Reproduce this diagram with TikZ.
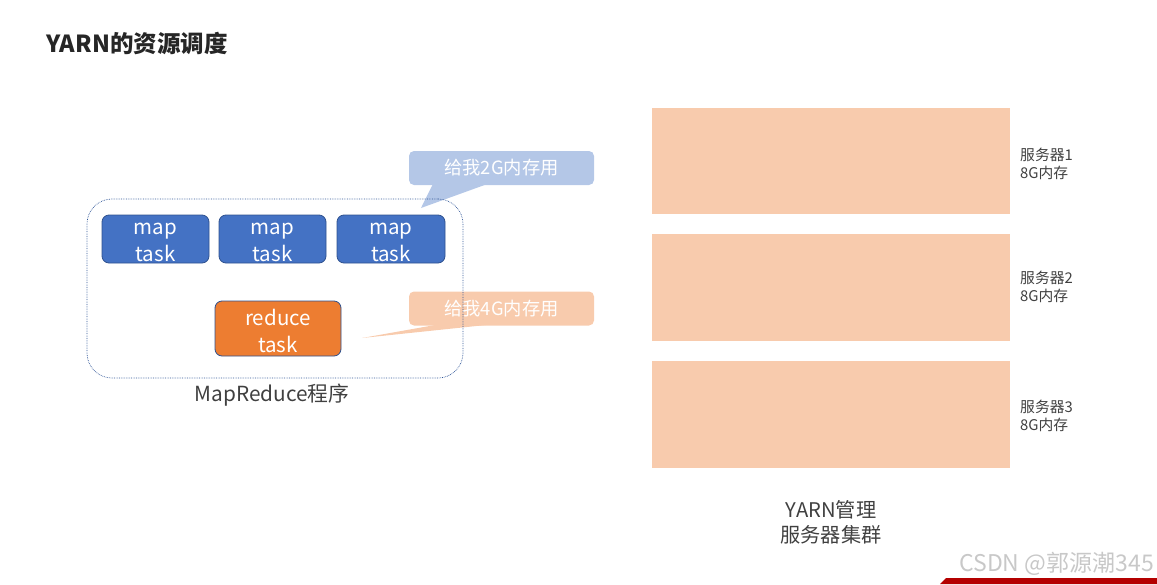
\documentclass[tikz,border=0pt]{standalone}
\usepackage{fontspec}
\setmainfont{Noto Sans CJK SC}
\usetikzlibrary{calc}
\definecolor{mapblue}{HTML}{4472C4}
\definecolor{mapedge}{HTML}{2F528F}
\definecolor{redorange}{HTML}{ED7D31}
\definecolor{lightblue}{HTML}{B4C7E7}
\definecolor{peach}{HTML}{F8CBAD}
\definecolor{framecol}{HTML}{2F5597}
\definecolor{txtgray}{HTML}{404040}
\definecolor{titlegray}{HTML}{262626}
\definecolor{wmgray}{HTML}{C8C8C8}
\definecolor{barred}{HTML}{B40000}
\tikzset{
  taskbox/.style={draw=mapedge, line width=0.8pt, rounded corners=7pt, inner sep=0pt},
  tasktext/.style={text=white, font=\fontsize{20.5}{27}\selectfont, align=center, inner sep=0pt},
  callout/.style={rounded corners=5pt, text=white, font=\fontsize{18.3}{20}\selectfont,
    minimum width=185pt, minimum height=34pt, inner sep=0pt},
  server/.style={fill=peach, minimum width=358pt, inner sep=0pt},
  slabel/.style={anchor=west, align=left, text=txtgray, font=\fontsize{14.8}{18}\selectfont, inner sep=0pt},
}
\begin{document}
\begin{tikzpicture}[x=1pt,y=-1pt]
\useasboundingbox (0,0) rectangle (1157,584);
% title
\node[anchor=west, inner sep=0pt, text=titlegray, font=\fontsize{23.5}{26}\selectfont\bfseries] (title) at (46,43) {YARN的资源调度};
% callouts
\node[callout, fill=lightblue] (c1) at (501.5,168) {给我2G内存用};
\node[callout, fill=peach] (c2) at (501.5,308.5) {给我4G内存用};
\fill[lightblue] ($(c1.south west)+(24,-1)$) -- (421,208) coordinate (t1) -- ($(c1.south west)+(78,-1)$) -- cycle;
\fill[peach] ($(c2.south west)+(28,-1)$) -- (362,338) coordinate (t2) -- ($(c2.south west)+(80,-1)$) -- cycle;
% frame
\node[draw=framecol, densely dotted, line width=0.7pt, rounded corners=25pt, minimum width=376pt, minimum height=179pt, inner sep=0pt] (frame) at (275,288.5) {};
% tasks
\node[taskbox, fill=mapblue, minimum width=107pt, minimum height=48pt] (m1) at (155.5,239) {};
\node[taskbox, fill=mapblue, minimum width=107pt, minimum height=48pt] (m2) at (272.5,239) {};
\node[taskbox, fill=mapblue, minimum width=108pt, minimum height=48pt] (m3) at (391,239) {};
\node[taskbox, fill=redorange, minimum width=126pt, minimum height=55pt] (r1) at (278,328.5) {};
\node[tasktext] (m1t) at ($(m1.center)+(0,3)$) {map\\task};
\node[tasktext] (m2t) at ($(m2.center)+(0,3)$) {map\\task};
\node[tasktext] (m3t) at ($(m3.center)+(0,3)$) {map\\task};
\node[tasktext] (r1t) at ($(r1.center)+(0,2)$) {reduce\\task};
\node[text=txtgray, font=\fontsize{20.8}{24}\selectfont, inner sep=0pt] (mrlabel) at (272,395) {MapReduce程序};
% servers
\node[server, minimum height=106pt] (s1) at (831,161) {};
\node[server, minimum height=107pt] (s2) at (831,287.5) {};
\node[server, minimum height=107pt] (s3) at (831,414.5) {};
\node[slabel] (l1) at (1020,164) {服务器1\\8G内存};
\node[slabel] (l2) at (1020,286.5) {服务器2\\8G内存};
\node[slabel] (l3) at (1020,415.5) {服务器3\\8G内存};
\node[align=center, text=txtgray, font=\fontsize{20.2}{25}\selectfont, inner sep=0pt] (ylabel) at (831,522.5) {YARN管理\\服务器集群};
% watermark
\node[anchor=east, text=wmgray, font=\fontsize{23}{26}\selectfont, inner sep=0pt] (wm) at (1154,564) {CSDN @郭源潮345};
\fill[barred] (946,578) -- (1157,578) -- (1157,584) -- (940,584) -- cycle;
\end{tikzpicture}
\end{document}
